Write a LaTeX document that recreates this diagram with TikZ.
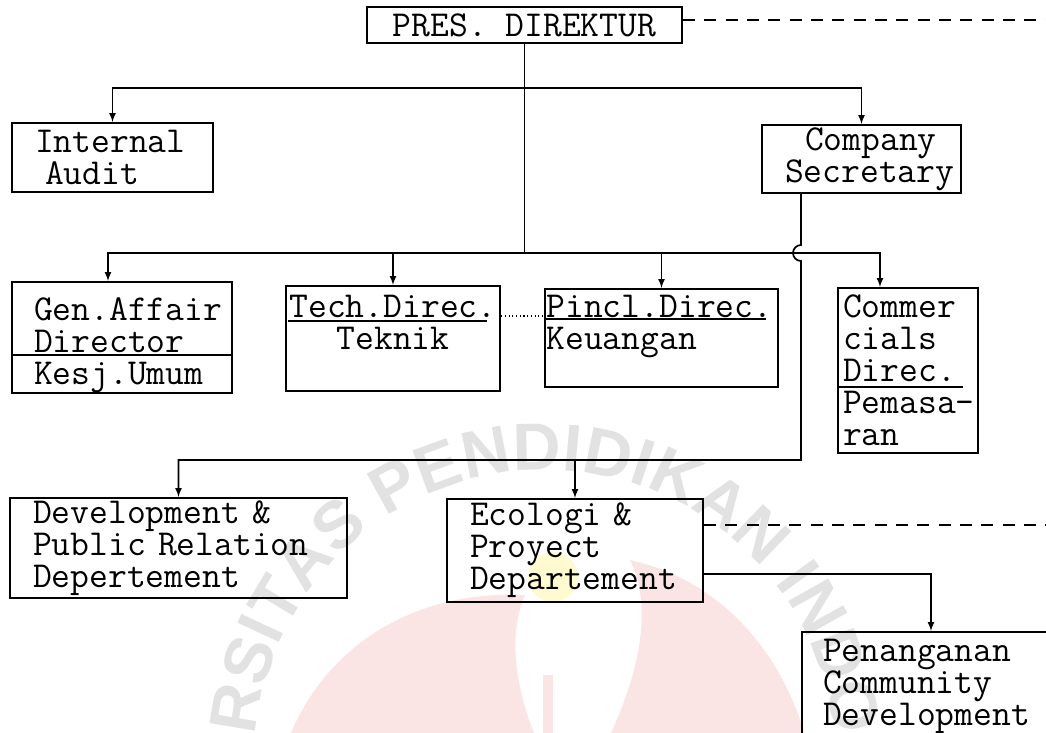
\documentclass[tikz,border=0pt]{standalone}
\usepackage{fontspec}
\newfontfamily\markfont{Liberation Sans}
\usetikzlibrary{decorations.text}
\hyphenpenalty=10000
\exhyphenpenalty=10000
\definecolor{wmgray}{RGB}{226,226,226}
\definecolor{wmpink}{RGB}{250,228,228}
\definecolor{wmyellow}{RGB}{255,250,208}
\tikzset{
  unit/.style={draw, line width=1.6pt, inner ysep=0pt, align=left,
    font=\ttfamily\fontsize{27.4}{24}\selectfont},
  link/.style={line width=1.3pt},
  rule/.style={line width=1.4pt},
}
\begin{document}
\begin{tikzpicture}[x=0.75pt, y=-0.75pt, >=latex]
\useasboundingbox (0,0) rectangle (1046,732);
% watermark
\fill[wmpink] (290,735) .. controls (330,640) and (420,590) .. (525,595)
  .. controls (505,640) and (520,700) .. (535,735) -- cycle;
\fill[wmpink] (805,735) .. controls (780,650) and (720,580) .. (630,560)
  .. controls (650,600) and (645,660) .. (610,735) -- cycle;
\fill[wmpink] (543,675) rectangle (553,735);
\fill[wmyellow] (553,577) circle (18.75pt);
\path[decorate, decoration={text along path, text align=center, text color=wmgray,
    text={|\markfont\bfseries\fontsize{50}{50}\selectfont|UNIVERSITAS PENDIDIKAN INDONESIA}}]
  (545,760) ++(230:217.5pt) arc (230:-50:217.5pt);

% units
\node[unit, minimum width=236.25pt, minimum height=27pt, align=center] (pres) at (524.5,25) {PRES. DIREKTUR};
\node[unit, minimum height=51.75pt, inner xsep=17.25pt, text width=116.25pt] (ia) at (112.5,157.5) {Internal\\\hspace*{7.5pt}Audit};
\node[unit, minimum height=51pt, inner xsep=17.25pt, text width=114.75pt] (cs) at (861.5,159) {\hspace*{15pt}Company\\Secretary};
\node[unit, minimum height=80.25pt, inner xsep=16.5pt, text width=132pt] (gen) at (122,337.5) {\rule{0pt}{29pt}Gen.Affair\\Director\\Kesj.Umum};
\node[unit, minimum height=78.75pt, inner xsep=0.75pt, text width=159pt, align=center] (tech) at (393,338.5) {Tech.Direc.\\Teknik\\\mbox{}};
\node[unit, minimum height=73.5pt, inner xsep=1.125pt, text width=172.5pt] (pincl) at (661.5,338) {Pincl.Direc.\\Keuangan\\\mbox{}};
\node[unit, minimum height=123.75pt, inner xsep=3.75pt, text width=97.5pt] (com) at (908,370.5) {Commer\\cials\\Direc.\\Pemasa-\\ran};
\node[unit, minimum height=75pt, inner xsep=17.25pt, text width=218.25pt] (dev) at (178.5,548) {Development \&\\Public Relation\\Depertement};
\node[unit, minimum height=77.25pt, inner xsep=17.25pt, text width=157.5pt] (eco) at (575,550.5) {Ecologi \&\\Proyect\\Departement};
\node[unit, minimum height=81pt, inner xsep=15.75pt, text width=162pt] (pen) at (931,686) {Penanganan\\Community\\Development};

% underlines inside the boxes
\draw[rule] ([yshift=-55.5pt]gen.north west) -- ([yshift=-55.5pt]gen.north east);
\draw[rule] ([xshift=2pt,yshift=-27pt]tech.north west) -- ([xshift=-10.5pt,yshift=-27pt]tech.north east);
\draw[rule] ([yshift=-23.25pt]pincl.north west) -- ([xshift=-9.75pt,yshift=-23.25pt]pincl.north east);
\draw[rule] ([yshift=-75pt]com.north west) -- ([xshift=-12pt,yshift=-75pt]com.north east);

% levels
\coordinate (lv1) at (0,88);
\coordinate (lv2) at (0,253);
\coordinate (lv3) at (0,460);
\coordinate (sx) at (801,0);
\coordinate (hop) at (sx |- lv2);
\coordinate (g1) at ([xshift=-10.5pt]gen.north);
\coordinate (c1) at ([xshift=-21pt]com.north);

\draw[link] (pres.south) -- (pres.south |- lv2);
\draw[link, <->] (ia.north) |- (lv1 -| cs.north) -- (cs.north);
\draw[link, <->] (g1) |- (lv2 -| c1) -- (c1);
\draw[link, ->] (tech.north |- lv2) -- (tech.north);
\draw[link, ->] (pincl.north |- lv2) -- (pincl.north);
\draw[link, ->] (cs.south -| sx) -- ([yshift=6pt]hop) arc (90:270:6pt)
  -- (sx |- lv3) -- (lv3 -| dev.north) -- (dev.north);
\draw[link, ->] (lv3 -| eco.north) -- (eco.north);

% side lines
\coordinate (pd) at (1046,20);
\coordinate (ed) at (1046,525);
\coordinate (es) at (0,574);
\coordinate (dt) at (0,316);
\draw[link, dash pattern=on 9pt off 7pt] (pres.east |- pd) -- (pd);
\draw[link, dash pattern=on 9pt off 7pt] (eco.east |- ed) -- (ed);
\draw[link, ->] (eco.east |- es) -| (pen.north);
\draw[line width=0.8pt, dotted] (tech.east |- dt) -- (pincl.west |- dt);
\end{tikzpicture}
\end{document}
